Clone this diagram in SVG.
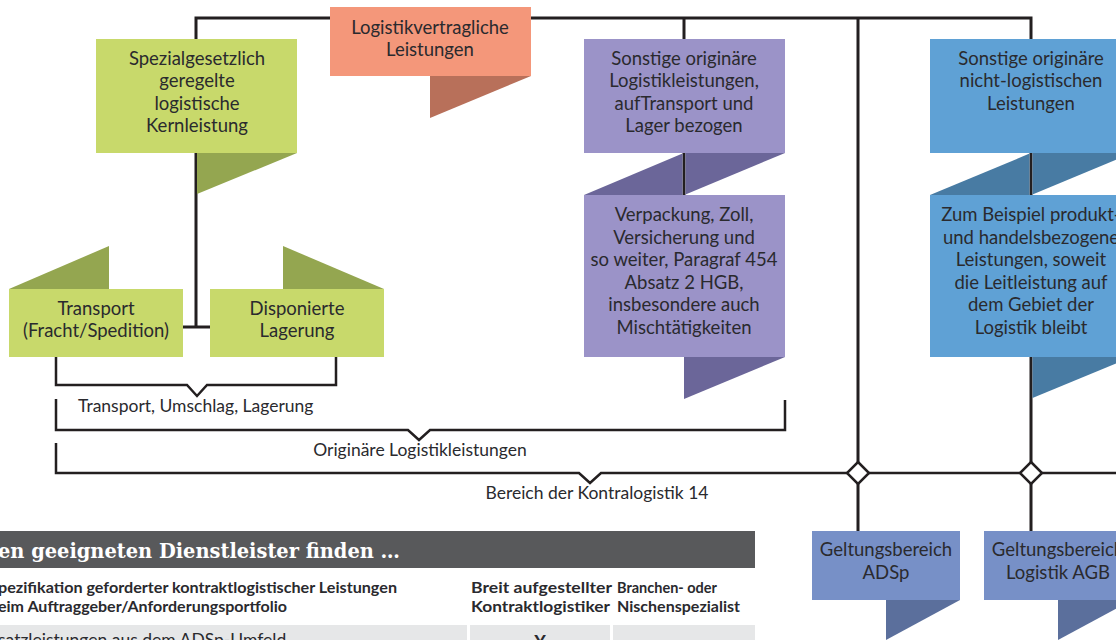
<svg xmlns="http://www.w3.org/2000/svg" width="1116" height="640" viewBox="0 0 1116 640">
<style>
.t{font-family:Lato,"Noto Sans",sans-serif;font-size:18.5px;fill:#2a2a2e;text-anchor:middle}
.s{font-family:Lato,"Noto Sans",sans-serif;font-size:17.5px;fill:#2a2a2e}
.h{font-family:Lato,"Noto Sans",sans-serif;font-size:16px;font-weight:bold;fill:#2a2a2e}
.ln{fill:none;stroke:#231f20;stroke-width:3}
.br{fill:none;stroke:#231f20;stroke-width:2.5;stroke-linejoin:miter}
.g{fill:#c8d96b}.gf{fill:#94a650}
.o{fill:#f4977a}.of{fill:#b8705a}
.p{fill:#9b93c8}.pf{fill:#6b6699}
.b{fill:#5fa1d5}.bf{fill:#487ba3}
.v{fill:#7790c7}.vf{fill:#5b6f9c}
.dm{fill:#fff;stroke:#231f20;stroke-width:2.5}
</style>
<rect width="1116" height="640" fill="#fff"/>
<g id="connectors">
<polyline class="ln" points="196,327 196,18 1031,18 1031,531"/>
<line class="ln" x1="183" y1="327" x2="210" y2="327"/>
<line class="ln" x1="684" y1="18" x2="684" y2="195"/>
<line class="ln" x1="858" y1="18" x2="858" y2="531"/>
<polyline class="br" points="56,357 56,385 187,385 197,396 207,385 336,385 336,357"/>
<polyline class="br" points="56,399 56,430 408,430 419,440 430,430 785,430 785,400"/>
<polyline class="br" points="56,443 56,473 579,473 590,483 601,473 1116,473"/>
<polygon class="dm" points="858,462 869,473 858,484 847,473"/>
<polygon class="dm" points="1031,462 1042,473 1031,484 1020,473"/>
</g>
<g id="logistikvertragliche">
<rect class="o" x="330" y="7" width="201" height="69"/>
<polygon class="of" points="430,76 531,76 430,118"/>
<text class="t" x="430" y="34">Logistikvertragliche</text>
<text class="t" x="430" y="56">Leistungen</text>
</g>
<g id="spezialgesetzlich">
<rect class="g" x="96" y="39" width="201" height="114"/>
<polygon class="gf" points="197,153 297,153 197,194"/>
<text class="t" x="197" y="65">Spezialgesetzlich</text>
<text class="t" x="197" y="87">geregelte</text>
<text class="t" x="197" y="110">logistische</text>
<text class="t" x="197" y="132">Kernleistung</text>
</g>
<g id="transport">
<polygon class="gf" points="9,289 109,246 109,289"/>
<rect class="g" x="9" y="289" width="174" height="68"/>
<text class="t" x="96" y="315">Transport</text>
<text class="t" x="96" y="337">(Fracht/Spedition)</text>
</g>
<g id="disponierte">
<polygon class="gf" points="283,246 384,289 283,289"/>
<rect class="g" x="210" y="289" width="174" height="68"/>
<text class="t" x="297" y="315">Disponierte</text>
<text class="t" x="297" y="337">Lagerung</text>
</g>
<g id="sonstige-logistik">
<rect class="p" x="584" y="39" width="201" height="114"/>
<polygon class="pf" points="584,195 682.5,153.6 682.5,195"/>
<polygon class="pf" points="685.5,153 785,153 685.5,194.4"/>
<text class="t" x="684" y="65">Sonstige originäre</text>
<text class="t" x="684" y="87">Logistikleistungen,</text>
<text class="t" x="684" y="110">aufTransport und</text>
<text class="t" x="684" y="132">Lager bezogen</text>
</g>
<g id="verpackung">
<rect class="p" x="584" y="195" width="201" height="162"/>
<polygon class="pf" points="684,357 785,357 684,399"/>
<text class="t" x="684" y="221">Verpackung, Zoll,</text>
<text class="t" x="684" y="244">Versicherung und</text>
<text class="t" x="684" y="266">so weiter, Paragraf 454</text>
<text class="t" x="684" y="289">Absatz 2 HGB,</text>
<text class="t" x="684" y="311">insbesondere auch</text>
<text class="t" x="684" y="334">Mischtätigkeiten</text>
</g>
<g id="sonstige-nicht-logistisch">
<rect class="b" x="930" y="39" width="202" height="114"/>
<polygon class="bf" points="930,195 1029.5,153.6 1029.5,195"/>
<polygon class="bf" points="1032.5,153 1132,153 1032.5,194.4"/>
<text class="t" x="1031" y="65">Sonstige originäre</text>
<text class="t" x="1031" y="87">nicht-logistischen</text>
<text class="t" x="1031" y="110">Leistungen</text>
</g>
<g id="zum-beispiel">
<rect class="b" x="930" y="195" width="202" height="162"/>
<polygon class="bf" points="1032.5,357 1132,357 1032.5,398"/>
<text class="t" x="1031" y="221">Zum Beispiel produkt-</text>
<text class="t" x="1031" y="244">und handelsbezogene</text>
<text class="t" x="1031" y="266">Leistungen, soweit</text>
<text class="t" x="1031" y="289">die Leitleistung auf</text>
<text class="t" x="1031" y="311">dem Gebiet der</text>
<text class="t" x="1031" y="334">Logistik bleibt</text>
</g>
<g id="labels">
<text class="s" x="78" y="412">Transport, Umschlag, Lagerung</text>
<text class="s" x="420" y="456" text-anchor="middle">Originäre Logistikleistungen</text>
<text class="s" x="597" y="499" text-anchor="middle">Bereich der Kontralogistik 14</text>
</g>
<g id="adsp">
<rect class="v" x="812" y="531" width="148" height="69"/>
<polygon class="vf" points="886,600 960,600 886,640"/>
<text class="t" x="886" y="556">Geltungsbereich</text>
<text class="t" x="886" y="579">ADSp</text>
</g>
<g id="agb">
<rect class="v" x="984" y="531" width="148" height="69"/>
<polygon class="vf" points="1058,600 1132,600 1058,640"/>
<text class="t" x="1058" y="556">Geltungsbereich</text>
<text class="t" x="1058" y="579">Logistik AGB</text>
</g>
<g id="table">
<rect x="0" y="531" width="755" height="37" fill="#58595b"/>
<text x="-2" y="558" fill="#fff" font-family="'DejaVu Serif Condensed','DejaVu Serif',serif" font-size="21" font-weight="bold" textLength="402" lengthAdjust="spacingAndGlyphs">en geeigneten Dienstleister finden …</text>
<text class="h" x="-2" y="593" textLength="399" lengthAdjust="spacingAndGlyphs">pezifikation geforderter kontraktlogistischer Leistungen</text>
<text class="h" x="-2" y="612" textLength="289" lengthAdjust="spacingAndGlyphs">eim Auftraggeber/Anforderungsportfolio</text>
<text class="h" x="471" y="593" textLength="141" lengthAdjust="spacingAndGlyphs">Breit aufgestellter</text>
<text class="h" x="471" y="612" textLength="139" lengthAdjust="spacingAndGlyphs">Kontraktlogistiker</text>
<text class="h" x="617" y="593" textLength="100" lengthAdjust="spacingAndGlyphs">Branchen- oder</text>
<text class="h" x="617" y="612" textLength="123" lengthAdjust="spacingAndGlyphs">Nischenspezialist</text>
<rect x="0" y="625" width="467" height="15" fill="#e6e7e8"/>
<rect x="470" y="625" width="140" height="15" fill="#e6e7e8"/>
<rect x="613" y="625" width="142" height="15" fill="#e6e7e8"/>
<text class="s" x="-2" y="646" font-size="16">satzleistungen aus dem ADSp-Umfeld</text>
<text x="540" y="649" font-family="Lato,sans-serif" font-size="18" font-weight="bold" fill="#2a2a2e" text-anchor="middle">X</text>
</g>
</svg>
